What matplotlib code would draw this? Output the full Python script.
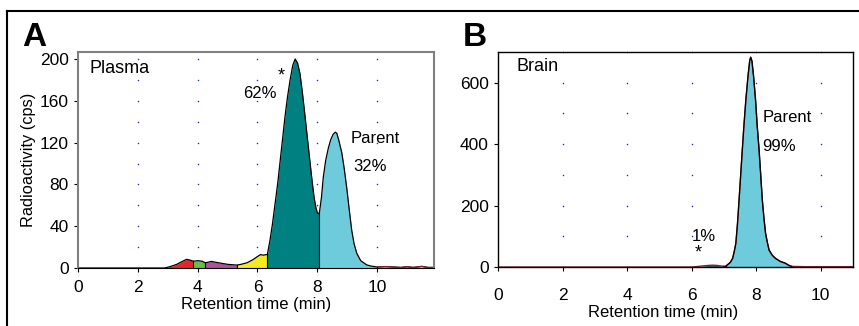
import numpy as np
import matplotlib.pyplot as plt
from matplotlib.lines import Line2D

plt.rcParams['font.family'] = ['Liberation Sans', 'DejaVu Sans']

# Panel A: plasma radio-HPLC trace (time in min, radioactivity in cps)
plasma_t = [0.0, 2.5, 2.9, 3.1, 3.3, 3.5, 3.63, 3.75, 3.86, 4.0, 4.15, 4.25, 4.35, 4.45,
            4.6, 4.8, 5.0, 5.31, 5.45, 5.65, 5.85, 6.0, 6.1, 6.2, 6.33, 6.42, 6.5, 6.59,
            6.68, 6.76, 6.84, 6.92, 7.0, 7.09, 7.18, 7.26, 7.34, 7.42, 7.5, 7.59, 7.68,
            7.76, 7.83, 7.89, 7.95, 8.0, 8.04, 8.07, 8.14, 8.2, 8.28, 8.37, 8.45, 8.53,
            8.6, 8.65, 8.72, 8.82, 8.9, 8.99, 9.07, 9.15, 9.23, 9.32, 9.45, 9.65, 9.8,
            10.0, 10.3, 10.5, 10.8, 11.0, 11.2, 11.5, 11.7, 11.9]
plasma_cps = [0, 0, 0, 1.5, 3.5, 6.5, 8.3, 7.5, 6.5, 7, 6.5, 5, 5.5, 6.3,
              5.5, 4.5, 3.5, 2.8, 3.5, 5, 8, 11, 12.8, 12.3, 13, 27, 42, 62,
              82, 103, 124, 145, 163, 180, 194, 200, 196, 186, 168, 145, 121,
              100, 82, 68, 58, 53, 52, 53, 68, 87, 103, 115, 123, 128,
              130, 129, 122, 110, 95, 75, 55, 36, 23, 14, 7, 3, 1.8,
              1, 1.3, 1.0, 0.5, 1.2, 0.5, 1.5, 0.5, 0.5]
# peak windows (start, end, colour)
plasma_peaks = [(2.9, 3.86, '#e8242b'), (3.86, 4.25, '#6abd45'), (4.25, 5.31, '#b0509f'),
                (5.31, 6.33, '#f4ea1c'), (6.33, 8.07, '#008080'), (8.07, 10.0, '#6ecbdc')]

# Panel B: brain trace
brain_t = [0.0, 6.0, 6.13, 6.3, 6.5, 6.65, 6.8, 7.0, 7.05, 7.12, 7.2, 7.27, 7.32, 7.37,
           7.42, 7.47, 7.52, 7.57, 7.62, 7.68, 7.75, 7.8, 7.83, 7.87, 7.92, 7.98, 8.03,
           8.09, 8.14, 8.19, 8.24, 8.29, 8.35, 8.4, 8.5, 8.6, 8.75, 8.91, 9.0, 9.1, 9.5, 11.0]
brain_cps = [0, 0, 1, 3, 5, 6, 5, 2, 2, 8, 15, 28, 50, 77,
             140, 218, 300, 381, 460, 544, 625, 672, 683, 670, 620, 544, 462,
             381, 300, 218, 160, 110, 78, 55, 38, 28, 18, 12, 6, 2, 1, 1]
brain_peaks = [(6.3, 7.05, '#2f5560'), (7.05, 9.1, '#6ecbdc')]

fig = plt.figure(figsize=(8.59, 3.26), dpi=100)

# outer frame
fig.add_artist(Line2D([7/859, 7/859], [0, 1 - 11/326], color='black', lw=1.5))
fig.add_artist(Line2D([7/859, 1], [1 - 11/326, 1 - 11/326], color='black', lw=1.5))

axA = fig.add_axes([78/859, 1 - 268/326, 356/859, 216/326])
axB = fig.add_axes([498/859, 1 - 267/326, 355/859, 215/326])


def fill_peaks(ax, t, y, peaks):
    t = np.array(t)
    y = np.array(y)
    for t0, t1, c in peaks:
        m = (t >= t0) & (t <= t1)
        ax.fill_between(t[m], 0, y[m], color=c, lw=0)
        # separator at the peak boundary
        yb = y[np.argmin(np.abs(t - t1))]
        ax.plot([t1, t1], [0, yb], color='black', lw=0.8)


# ---- Panel A
fill_peaks(axA, plasma_t, plasma_cps, plasma_peaks)
axA.plot(plasma_t, plasma_cps, color='black', lw=0.9)
pt = np.array(plasma_t)
axA.plot(pt[pt >= 10], np.array(plasma_cps)[pt >= 10], color='#7a2535', lw=1)
axA.set_xlim(0, 11.9)
axA.set_ylim(0, 206.7)
axA.set_xticks(range(0, 12, 2))
axA.set_yticks(range(0, 201, 40))
gx, gy = np.meshgrid([2, 4, 6, 8, 10], np.arange(20, 201, 20))
axA.scatter(gx, gy, s=1.2, color='#2030c0', lw=0, zorder=0)
for s in ['top', 'right', 'left']:
    axA.spines[s].set_color('#808080')
    axA.spines[s].set_linewidth(1.5)
axA.spines['bottom'].set_color('black')
axA.tick_params(direction='out', length=3, labelsize=12.5, color='black')
axA.tick_params(axis='x', pad=6)
axA.set_ylabel('Radioactivity (cps)', fontsize=11.8, labelpad=3)
axA.set_xlabel('Retention time (min)', fontsize=12)
axA.xaxis.set_label_coords(0.5, -0.135)
axA.text(0.4, 191, 'Plasma', fontsize=13, va='center', ha='left')
axA.text(6.79, 184, '*', fontsize=13, ha='center', va='center')
axA.text(6.09, 167, '62%', fontsize=12, ha='center', va='center')
axA.text(9.1, 124, 'Parent', fontsize=12, ha='left', va='center')
axA.text(9.2, 97, '32%', fontsize=12, ha='left', va='center')

# ---- Panel B
fill_peaks(axB, brain_t, brain_cps, brain_peaks)
bt = np.array(brain_t)
axB.plot(brain_t, brain_cps, color='#7a2535', lw=1)
m = (bt >= 7.0) & (bt <= 9.1)
axB.plot(bt[m], np.array(brain_cps)[m], color='black', lw=0.9)
axB.set_xlim(0, 11)
axB.set_ylim(0, 700)
axB.set_xticks(range(0, 11, 2))
axB.set_yticks(range(0, 601, 200))
gx, gy = np.meshgrid([2, 4, 6, 8, 10], np.arange(100, 701, 100))
axB.scatter(gx, gy, s=1.2, color='#2030c0', lw=0, zorder=0, clip_on=False)
for s in axB.spines.values():
    s.set_linewidth(1)
axB.tick_params(direction='out', length=3, labelsize=12.5)
axB.tick_params(axis='x', pad=12)
axB.set_xlabel('Retention time (min)', fontsize=12)
axB.xaxis.set_label_coords(0.465, -0.177)
axB.text(0.56, 654, 'Brain', fontsize=13, va='center', ha='left')
axB.text(8.2, 488, 'Parent', fontsize=12, ha='left', va='center')
axB.text(8.2, 391, '99%', fontsize=12, ha='left', va='center')
axB.text(5.99, 98, '1%', fontsize=12, ha='left', va='center')
axB.text(6.2, 45, '*', fontsize=13, ha='center', va='center')

# panel letters
fig.text(22/859, 1 - 37/326, 'A', fontsize=24, fontweight='bold', va='center', ha='left')
fig.text(463/859, 1 - 37/326, 'B', fontsize=24, fontweight='bold', va='center', ha='left')

fig.savefig('out.png', dpi=100)
